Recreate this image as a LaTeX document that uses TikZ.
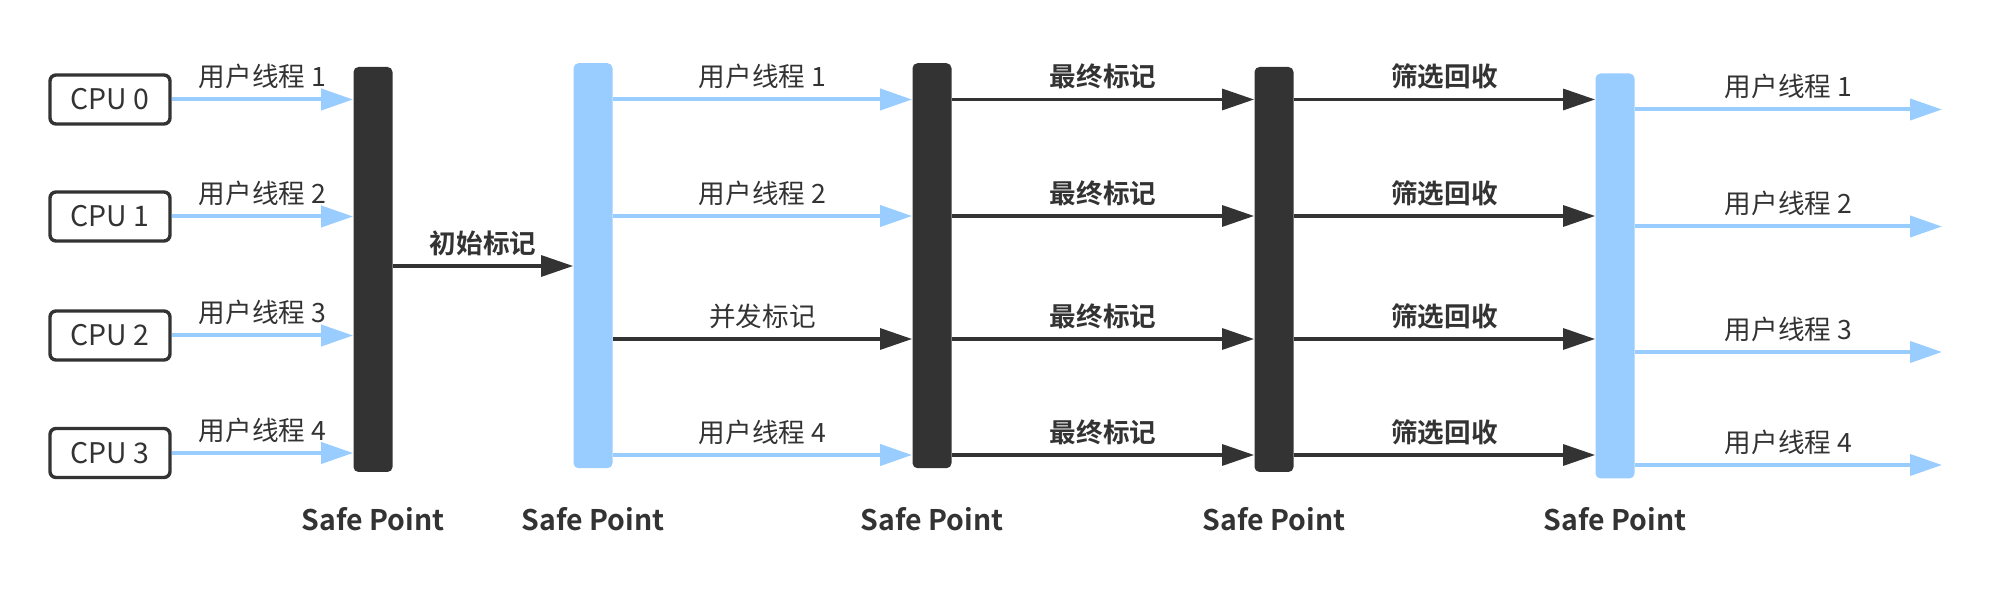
\documentclass[tikz,border=0pt]{standalone}
\usepackage{fontspec}
\setmainfont{Noto Sans CJK SC}[BoldFont={Noto Sans CJK SC Bold}]
\usepackage{xcolor}
\usepackage{tikz}
\usetikzlibrary{arrows.meta,calc,positioning}
\definecolor{spdark}{HTML}{333333}
\definecolor{spblue}{HTML}{99CCFF}
\newcommand{\lblfont}{\fontsize{13.3pt}{15pt}\selectfont}
\newcommand{\bigfont}{\fontsize{14.2pt}{16pt}\selectfont}

\begin{document}
\begin{tikzpicture}[
    x=0.5pt, y=-0.5pt,
    font=\lblfont,
    cpubox/.style={draw=spdark, line width=1.7pt, rounded corners=3pt, minimum width=60pt, minimum height=24.5pt, inner sep=0, text=spdark, font=\bigfont},
    darkbar/.style={fill=spdark, rounded corners=2.5pt, minimum width=19.5pt, minimum height=202.5pt, inner sep=0},
    bluebar/.style={darkbar, fill=spblue},
    safelabel/.style={font=\bigfont\bfseries, text=spdark},
    bluearrow/.style={draw=spblue, line width=2pt, -{Triangle[length=16pt, width=10.5pt]}},
    darkarrow/.style={draw=spdark, line width=1.6pt, -{Triangle[length=16pt, width=10.5pt]}},
    lbl/.style={midway, yshift=11.5pt, text=spdark},
    boldlbl/.style={lbl, font=\lblfont\bfseries}]
\useasboundingbox (0,0) rectangle (1993,592);

\node[cpubox] (cpu0) at (110,99.5)  {CPU 0};
\node[cpubox] (cpu1) at (110,216.5) {CPU 1};
\node[cpubox] (cpu2) at (110,335.5) {CPU 2};
\node[cpubox] (cpu3) at (110,453)   {CPU 3};

\node[darkbar] (bar1) at (373,269.5)  {};
\node[bluebar] (bar2) at (593,265.7)  {};
\node[darkbar] (bar3) at (932,265.7)  {};
\node[darkbar] (bar4) at (1274,269.5) {};
\node[bluebar] (bar5) at (1615,276)   {};

\coordinate (base) at (0,519);
\node[safelabel] (sp1) at (bar1 |- base) {Safe Point};
\node[safelabel] (sp2) at (bar2 |- base) {Safe Point};
\node[safelabel] (sp3) at (bar3 |- base) {Safe Point};
\node[safelabel] (sp4) at (bar4 |- base) {Safe Point};
\node[safelabel] (sp5) at (bar5 |- base) {Safe Point};

\coordinate (r0) at (0,266);
\coordinate (r1) at (0,99.5);
\coordinate (r2) at (0,216);
\coordinate (r3) at (0,339);
\coordinate (r4) at (0,455);
\coordinate (e1) at (1942,109.5);
\coordinate (e2) at (1942,226.5);
\coordinate (e3) at (1942,352);
\coordinate (e4) at (1942,465);

\draw[bluearrow] (cpu0.east) -- (cpu0 -| bar1.west) node[lbl] {用户线程 1};
\draw[bluearrow] (cpu1.east) -- (cpu1 -| bar1.west) node[lbl] {用户线程 2};
\draw[bluearrow] (cpu2.east) -- (cpu2 -| bar1.west) node[lbl] {用户线程 3};
\draw[bluearrow] (cpu3.east) -- (cpu3 -| bar1.west) node[lbl] {用户线程 4};

\draw[darkarrow] (bar1.east |- r0) -- (bar2.west |- r0) node[boldlbl] {初始标记};

\draw[bluearrow] (bar2.east |- r1) -- (bar3.west |- r1) node[lbl] {用户线程 1};
\draw[bluearrow] (bar2.east |- r2) -- (bar3.west |- r2) node[lbl] {用户线程 2};
\draw[darkarrow] (bar2.east |- r3) -- (bar3.west |- r3) node[lbl] {并发标记};
\draw[bluearrow] (bar2.east |- r4) -- (bar3.west |- r4) node[lbl] {用户线程 4};

\draw[darkarrow] (bar3.east |- r1) -- (bar4.west |- r1) node[boldlbl] {最终标记};
\draw[darkarrow] (bar3.east |- r2) -- (bar4.west |- r2) node[boldlbl] {最终标记};
\draw[darkarrow] (bar3.east |- r3) -- (bar4.west |- r3) node[boldlbl] {最终标记};
\draw[darkarrow] (bar3.east |- r4) -- (bar4.west |- r4) node[boldlbl] {最终标记};

\draw[darkarrow] (bar4.east |- r1) -- (bar5.west |- r1) node[boldlbl] {筛选回收};
\draw[darkarrow] (bar4.east |- r2) -- (bar5.west |- r2) node[boldlbl] {筛选回收};
\draw[darkarrow] (bar4.east |- r3) -- (bar5.west |- r3) node[boldlbl] {筛选回收};
\draw[darkarrow] (bar4.east |- r4) -- (bar5.west |- r4) node[boldlbl] {筛选回收};

\draw[bluearrow] (bar5.east |- e1) -- (e1) node[lbl] {用户线程 1};
\draw[bluearrow] (bar5.east |- e2) -- (e2) node[lbl] {用户线程 2};
\draw[bluearrow] (bar5.east |- e3) -- (e3) node[lbl] {用户线程 3};
\draw[bluearrow] (bar5.east |- e4) -- (e4) node[lbl] {用户线程 4};

\end{tikzpicture}
\end{document}
